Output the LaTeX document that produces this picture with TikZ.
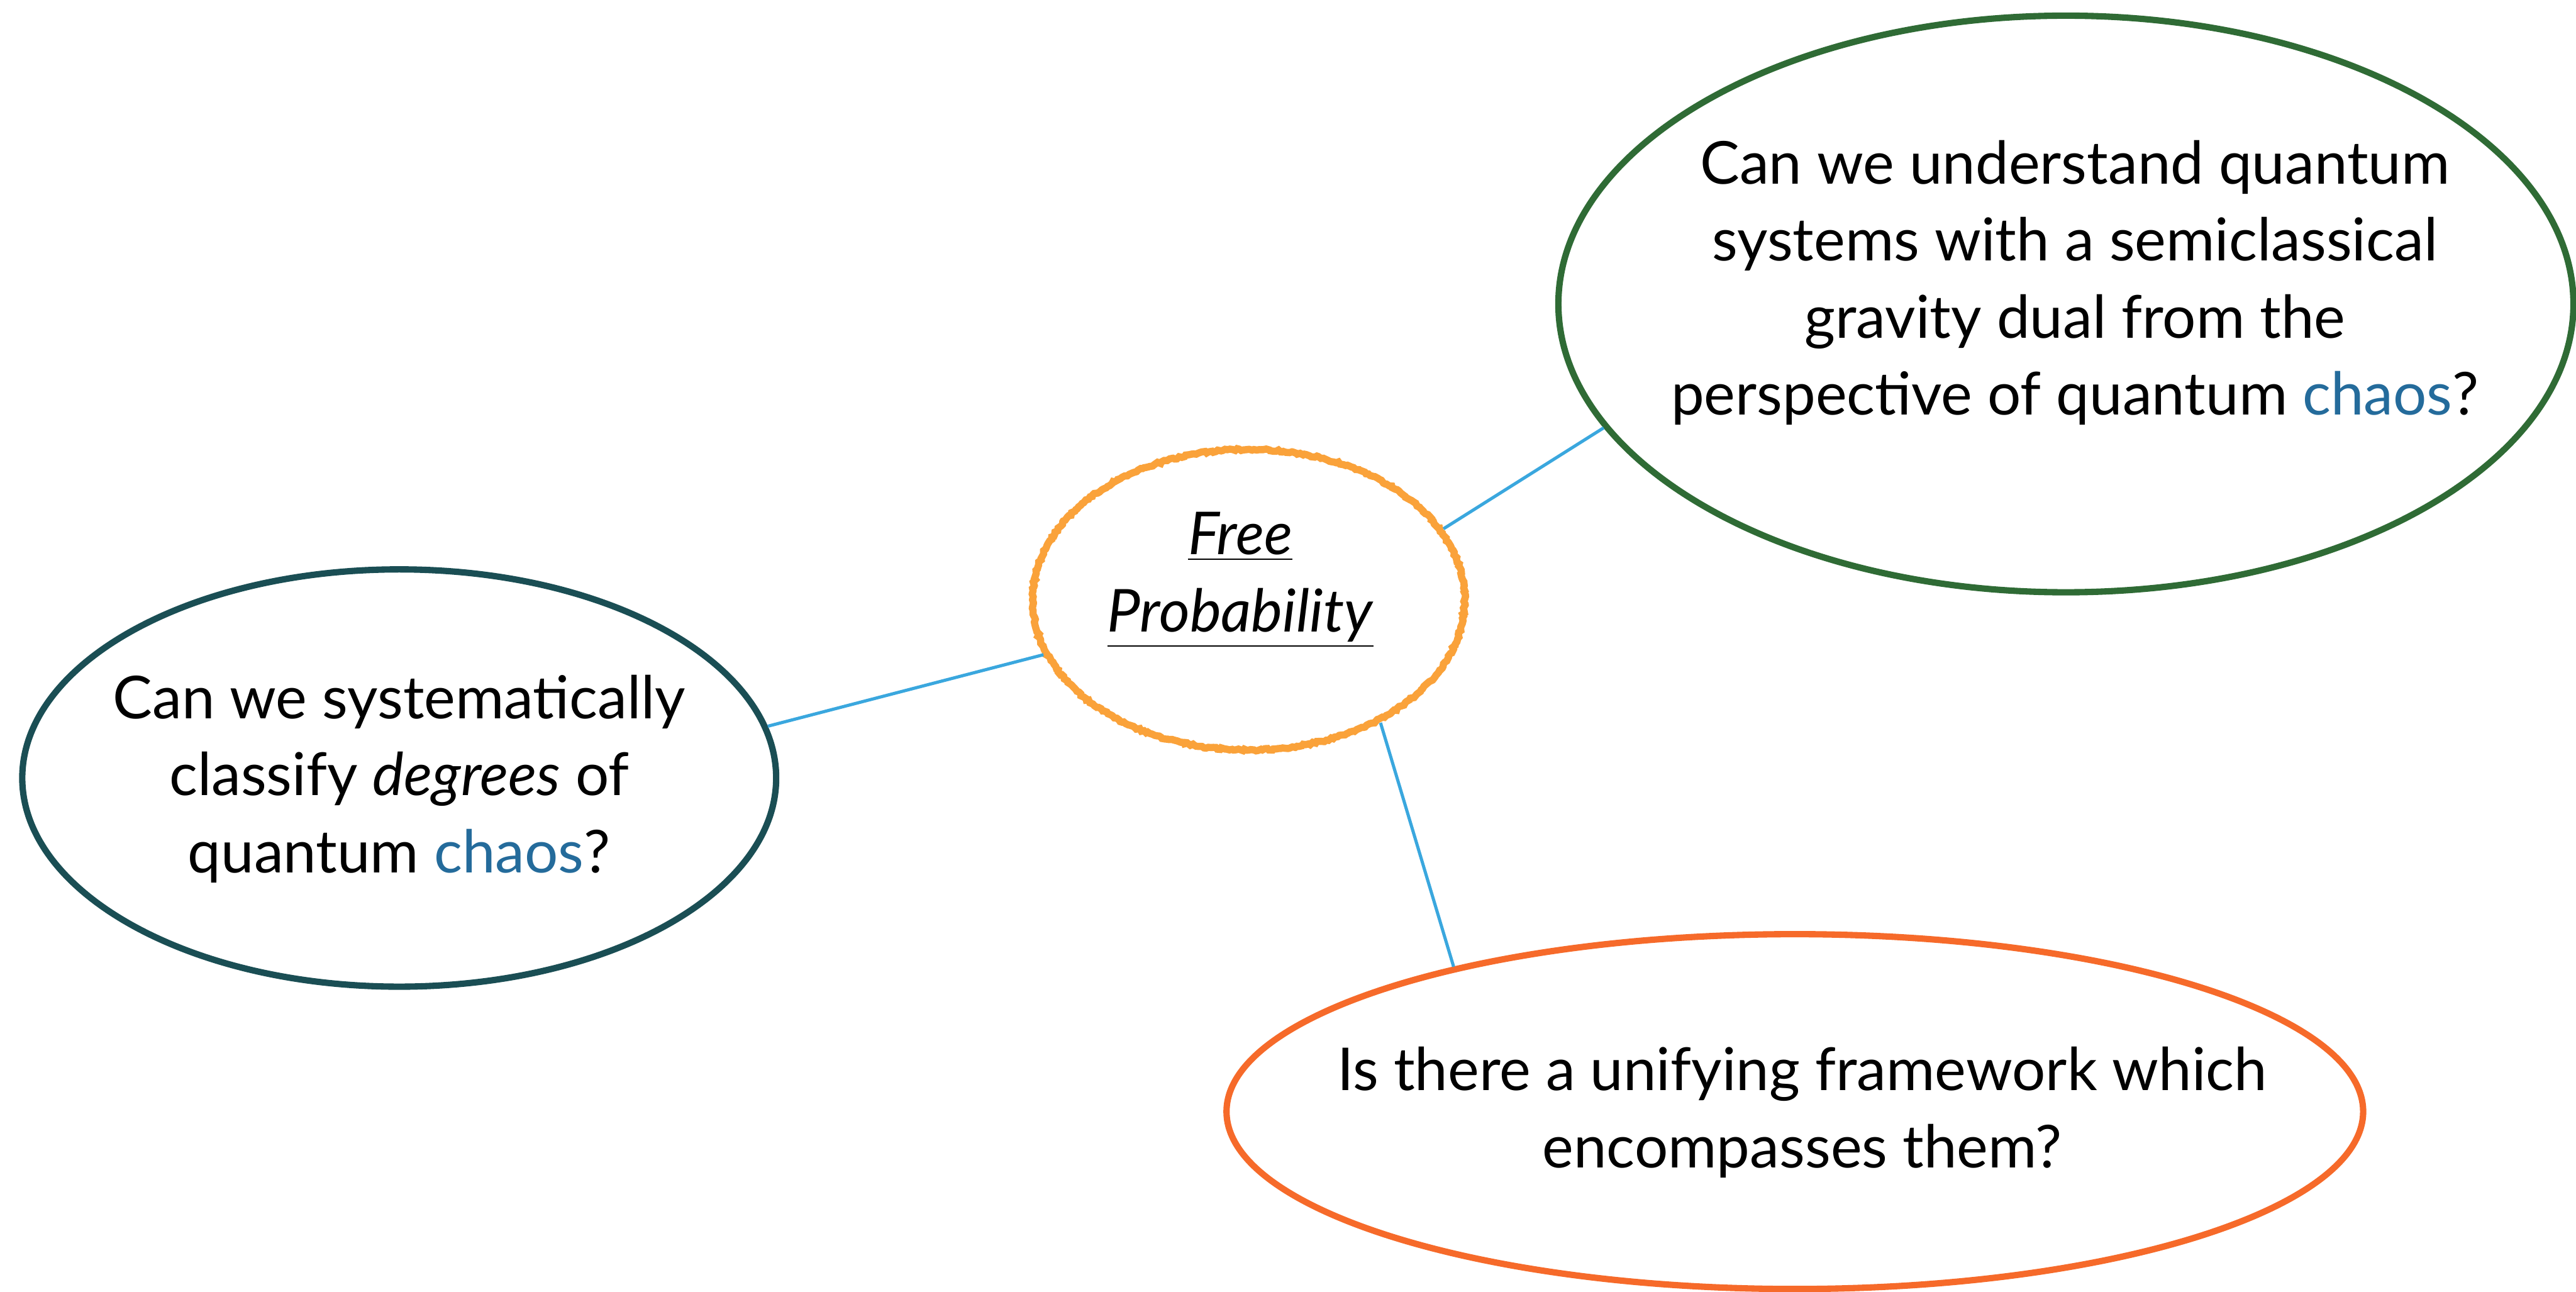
\documentclass[tikz,border=0pt]{standalone}
\usepackage{fontspec}
\setmainfont{Lato}
\usetikzlibrary{shapes.geometric,decorations.pathmorphing}

\definecolor{tealline}{RGB}{26,78,84}
\definecolor{greenline}{RGB}{47,107,53}
\definecolor{orangeline}{RGB}{246,106,42}
\definecolor{chalkorange}{RGB}{250,162,58}
\definecolor{linkblue}{RGB}{58,167,222}
\definecolor{chaosblue}{RGB}{36,107,155}

\newcommand{\chaosword}{\textcolor{chaosblue}{chaos}}

\tikzset{
	bubble/.style={ellipse, draw=#1, line width=2.2pt, inner sep=0pt},
	question/.style={align=center, inner sep=0pt,
		font=\fontsize{20.5pt}{26.7pt}\selectfont},
	link/.style={linkblue, line width=1.1pt},
}

\begin{document}
\begin{tikzpicture}[x=0.02cm, y=-0.02cm]
%
	\useasboundingbox (0,0) rectangle (1568,786);
%
	% centre: free probability, chalky outline
	\node[bubble=chalkorange, line width=2.5pt, decorate,
		decoration={random steps, segment length=0.8pt, amplitude=0.35pt},
		minimum width=5.26cm, minimum height=3.66cm] (fp) at (760,365) {};
	\node[question] (fptext) at (755,353)
		{\underline{\textit{Free}}\\ \underline{\textit{Probability}}};
%
	% the three questions
	\node[bubble=tealline, minimum width=9.18cm, minimum height=5.08cm] (degrees) at (243,473.5) {};
	\node[question] (degreestext) at (243,474)
		{Can we systematically\\ classify \textit{degrees} of\\ quantum \chaosword?};
%
	\node[bubble=greenline, minimum width=12.36cm, minimum height=7.02cm] (gravity) at (1257.5,185) {};
	\node[question] (gravitytext) at (1263,172)
		{Can we understand quantum\\ systems with a semiclassical\\ gravity dual from the\\ perspective of quantum \chaosword?};
%
	\node[bubble=orangeline, minimum width=13.84cm, minimum height=4.32cm] (unify) at (1092.5,676.5) {};
	\node[question] (unifytext) at (1097,677)
		{Is there a unifying framework which\\ encompasses them?};
%
	% links out of the centre
	\draw[link] (fp.195) -- (degrees.8.6);
	\draw[link] (fp.20.6) -- (gravity.195.3);
	\draw[link] (fp.-43) -- (unify.157.5);
%
\end{tikzpicture}
\end{document}
